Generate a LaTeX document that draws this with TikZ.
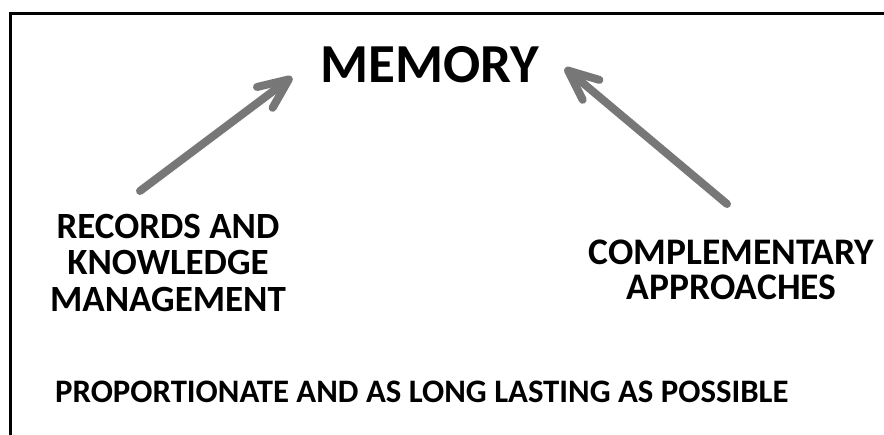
\documentclass[tikz,border=0pt]{standalone}
\usepackage{fontspec}
\setmainfont{Carlito}
\usetikzlibrary{arrows.meta}
\definecolor{arrowgray}{HTML}{777777}

\begin{document}
\begin{tikzpicture}[x=1pt,y=-1pt,>={Straight Barb[length=30pt,width=26pt,round]},
            topic/.style={font=\fontsize{37}{36.5}\selectfont\bfseries,align=center,inner sep=0pt},
            bigarrow/.style={->,draw=arrowgray,line width=8pt,line cap=round},black]
            \useasboundingbox (0,0) rectangle (884,435);
            \draw[line width=3pt] (10.5,435) |- (884,14);
            \node[inner sep=0pt,anchor=base,font=\fontsize{55}{60}\selectfont\bfseries] (memory) at (430,83) {MEMORY};
            \node[topic] (records) at (168,262.5) {RECORDS AND\\KNOWLEDGE\\MANAGEMENT};
            \node[topic,font=\fontsize{37.5}{35}\selectfont\bfseries] (complementary) at (731.5,269.5) {COMPLEMENTARY\\APPROACHES};
            \node[inner sep=0pt,anchor=base west,font=\fontsize{32.8}{34}\selectfont\bfseries] (proportionate) at (55,403)
            {PROPORTIONATE AND AS LONG LASTING AS POSSIBLE};
            \coordinate (recordsout) at (140,191);
            \coordinate (memoryleft) at (292,77);
            \coordinate (complementaryout) at (727,204);
            \coordinate (memoryright) at (565,68);
            \draw[bigarrow] (recordsout) -- (memoryleft);
            \draw[bigarrow] (complementaryout) -- (memoryright);
        \end{tikzpicture}
\end{document}
